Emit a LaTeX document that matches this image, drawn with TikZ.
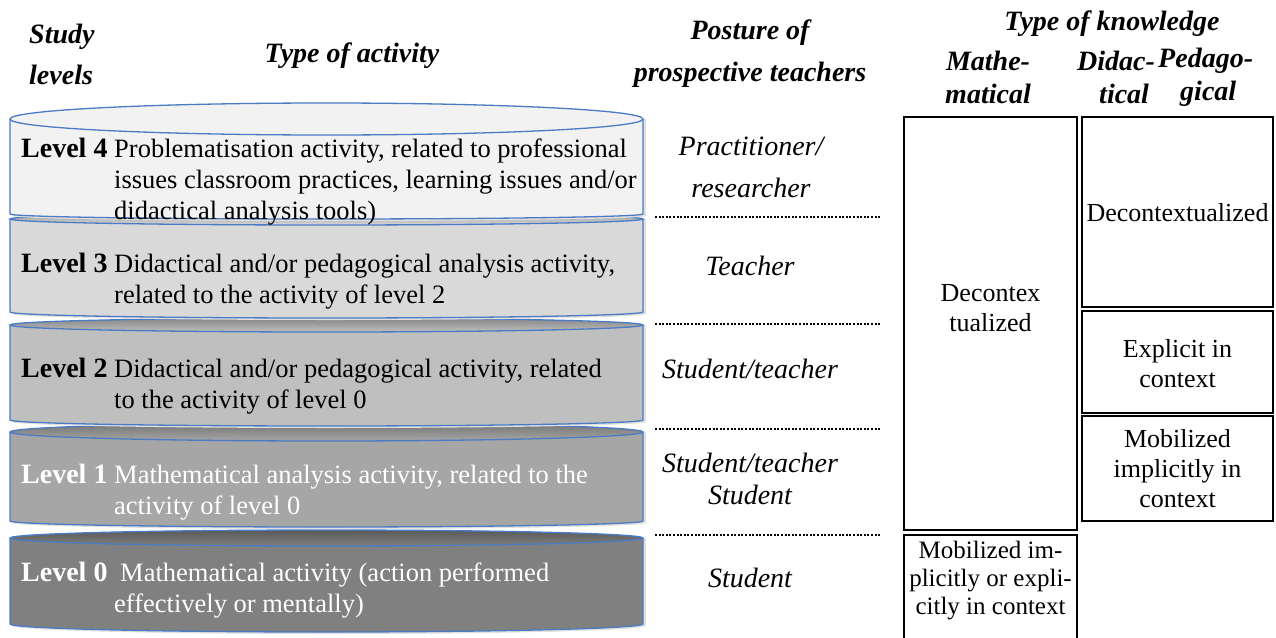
\documentclass[tikz,border=0pt]{standalone}
\usepackage{fontspec}
\setmainfont{Liberation Serif}
\definecolor{edge}{HTML}{4A7BC4}
\definecolor{lvfour}{HTML}{F2F2F2}
\definecolor{lvthree}{HTML}{D9D9D9}
\definecolor{lvtwo}{HTML}{BFBFBF}
\definecolor{lvone}{HTML}{A6A6A6}
\definecolor{lvzero}{HTML}{808080}
\newcommand\cyldisc[6]{%
  \fill[black!12] (13,#2) -- (13,#4+2) arc[start angle=180,end angle=360,x radius=316.5pt,y radius=#5pt] -- (646,#2) -- cycle;
  \fill[#1] (10,#2) -- (10,#4) arc[start angle=180,end angle=360,x radius=316.5pt,y radius=#5pt] -- (643,#2) arc[start angle=0,end angle=180,x radius=316.5pt,y radius=#3pt] -- cycle;
  \shade[top color=#6, bottom color=#1] (326.5,#2) ellipse[x radius=316.5pt, y radius=#3pt];
  \draw[cylline] (10,#2) -- (10,#4) arc[start angle=180,end angle=360,x radius=316.5pt,y radius=#5pt] -- (643,#2);
  \draw[cylline] (326.5,#2) ellipse[x radius=316.5pt, y radius=#3pt];
}
\newcommand\lvlab[1]{\makebox[93pt][l]{\fontsize{28}{31}\selectfont\bfseries #1}}
\begin{document}
\begin{tikzpicture}[x=1pt,y=-1pt,
  hdr/.style={font=\fontsize{28}{33}\selectfont\bfseries\itshape, inner sep=0pt, align=center},
  post/.style={font=\fontsize{28}{32}\selectfont\itshape, inner sep=0pt, align=center},
  lvtxt/.style={font=\fontsize{26.5}{31}\selectfont, inner sep=0pt, anchor=west},
  kbox/.style={draw=black, line width=2pt, inner sep=0pt},
  ktxt/.style={font=\fontsize{26}{30}\selectfont, inner sep=0pt, align=center},
  dotline/.style={line width=2.2pt, dash pattern=on 2pt off 1.6pt},
  cylline/.style={draw=edge, line width=1.3pt}]
\useasboundingbox (0,0) rectangle (1276,637);
\fill[white] (0,0) rectangle (1276,637);

% headers
\node[hdr, align=left, anchor=west, font=\fontsize{28}{41}\selectfont\bfseries\itshape] (hstudy) at (29,54) {Study\\levels};
\node[hdr] (hact) at (352,56) {Type of activity};
\node[hdr, font=\fontsize{28}{42}\selectfont\bfseries\itshape] (hpost) at (750,54) {Posture of\\prospective teachers};
\node[hdr] (hknow) at (1112,24) {Type of knowledge};
\node[hdr] (hmath) at (988,77) {Mathe-\\matical};
\node[hdr, align=left, anchor=west] (hdid) at (1077,77) {Didac-\\\hspace*{22pt}tical};
\node[hdr, align=left, anchor=west] (hped) at (1158,77) {Pedago-\\\hspace*{22pt}gical};

% cylinder discs (bottom to top)
\cyldisc{lvzero}{538}{8}{624}{8}{lvzero!70!black}
\cyldisc{lvone}{432}{9}{521}{6}{lvone!70!black}
\cyldisc{lvtwo}{325}{7}{420}{6}{lvtwo!70!black}
\cyldisc{lvthree}{219}{6}{312}{6}{lvthree!70!black}
\cyldisc{lvfour}{119}{16}{214}{5}{lvfour}

% level texts
\node[lvtxt] (t4) at (21,182) {\begin{tabular}{@{}l@{}l@{}}\lvlab{Level 4} & Problematisation activity, related to professional\\ & issues classroom practices, learning issues and/or\\ & didactical analysis tools)\end{tabular}};
\node[lvtxt] (t3) at (21,282) {\begin{tabular}{@{}l@{}l@{}}\lvlab{Level 3} & Didactical and/or pedagogical analysis activity,\\ & related to the activity of level 2\end{tabular}};
\node[lvtxt] (t2) at (21,387) {\begin{tabular}{@{}l@{}l@{}}\lvlab{Level 2} & Didactical and/or pedagogical activity, related\\ & to the activity of level 0\end{tabular}};
\node[lvtxt, text=white] (t1) at (21,493) {\begin{tabular}{@{}l@{}l@{}}\lvlab{Level 1} & Mathematical analysis activity, related to the\\ & activity of level 0\end{tabular}};
\node[lvtxt, text=white] (t0) at (21,591) {\begin{tabular}{@{}l@{}l@{}}\lvlab{Level 0} & \hspace{6pt}Mathematical activity (action performed\\ & effectively or mentally)\end{tabular}};

% postures
\node[post, font=\fontsize{28}{42}\selectfont\itshape] (p4) at (751,167) {Practitioner/\\researcher};
\node[post] (p3) at (750,266) {Teacher};
\node[post] (p2) at (750,369) {Student/teacher};
\node[post] (p1) at (750,479) {Student/teacher\\Student};
\node[post] (p0) at (750,578) {Student};

% dotted separators
\coordinate (d1a) at (655,217); \coordinate (d1b) at (880,217);
\coordinate (d2a) at (655,324); \coordinate (d2b) at (880,324);
\coordinate (d3a) at (655,429); \coordinate (d3b) at (880,429);
\coordinate (d4a) at (655,535); \coordinate (d4b) at (880,535);
\draw[dotline] (d1a) -- (d1b);
\draw[dotline] (d2a) -- (d2b);
\draw[dotline] (d3a) -- (d3b);
\draw[dotline] (d4a) -- (d4b);

% knowledge boxes
\node[kbox, minimum width=173pt, minimum height=413pt] (m1) at (990.5,323.5) {};
\node[kbox, minimum width=173pt, minimum height=112pt] (m2) at (990.5,591) {};
\node[kbox, minimum width=191pt, minimum height=190pt] (k1) at (1177.5,212) {};
\node[kbox, minimum width=191pt, minimum height=102pt] (k2) at (1177.5,362) {};
\node[kbox, minimum width=191pt, minimum height=105pt] (k3) at (1177.5,468.5) {};

\node[ktxt] (m1t) at (990.5,308) {Decontex\\tualized};
\node[ktxt, font=\fontsize{25}{28}\selectfont] (m2t) at (990.5,581) {Mobilized im-\\plicitly or expli-\\citly in context};
\node[ktxt] (k1t) at (1177.5,213) {Decontextualized};
\node[ktxt] (k2t) at (1177.5,364) {Explicit in\\context};
\node[ktxt] (k3t) at (1177.5,469) {Mobilized\\implicitly in\\context};
\end{tikzpicture}
\end{document}
